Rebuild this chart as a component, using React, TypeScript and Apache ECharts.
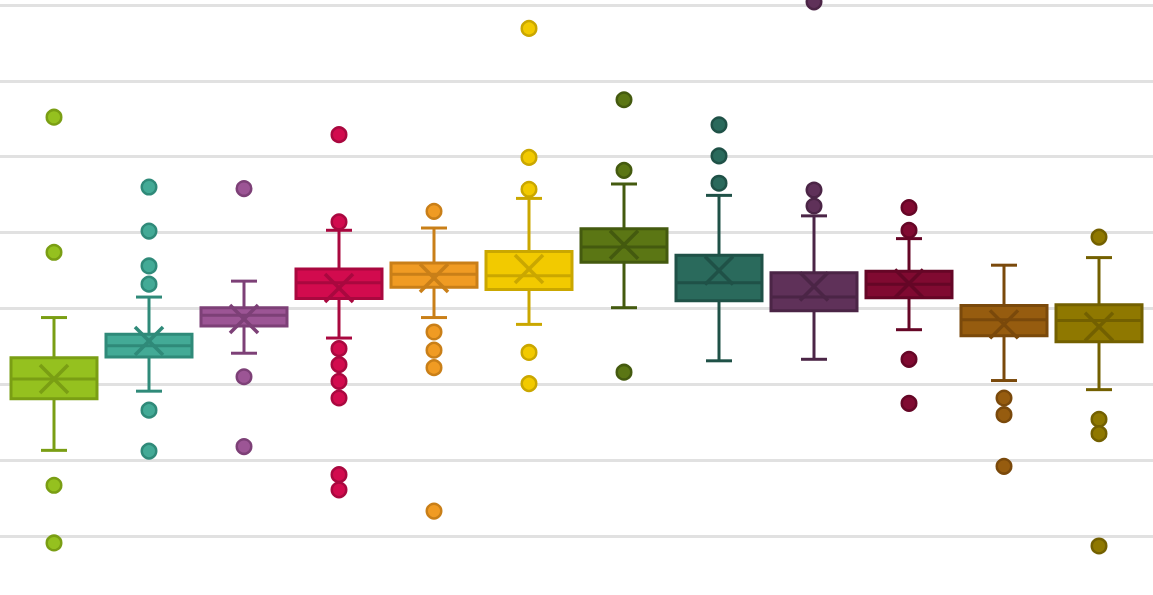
import React, { useEffect, useRef } from "react";
import * as echarts from "echarts";

// 12 groups (no visible labels in the chart)
const categories = ["G1", "G2", "G3", "G4", "G5", "G6", "G7", "G8", "G9", "G10", "G11", "G12"];

const whiskerLow = [11.3, 19.1, 24.1, 26.1, 28.8, 27.9, 30.1, 23.1, 23.3, 27.2, 20.5, 19.3];
const q1 = [18.1, 23.6, 27.7, 31.3, 32.8, 32.5, 36.1, 31.0, 29.7, 31.4, 26.4, 25.6];
const median = [20.7, 25.1, 29.1, 33.4, 34.5, 34.3, 38.1, 33.4, 31.5, 33.2, 28.5, 28.4];
const q3 = [23.5, 26.6, 30.1, 35.2, 36.0, 37.5, 40.5, 37.0, 34.7, 34.9, 30.4, 30.5];
const whiskerHigh = [28.8, 31.5, 33.6, 40.3, 40.6, 44.5, 46.4, 44.9, 42.2, 39.2, 35.7, 36.7];
const means = [20.7, 25.7, 28.6, 32.7, 34.0, 35.2, 38.4, 35.0, 32.9, 33.3, 27.9, 27.6];

const outliers = [
  [55.2, 37.4, 6.7, -0.9],
  [46.0, 40.2, 35.6, 33.2, 16.6, 11.2],
  [45.8, 21.0, 11.8],
  [52.9, 41.4, 24.7, 22.6, 20.4, 18.2, 8.1, 6.1],
  [42.8, 26.9, 24.5, 22.2, 3.3],
  [66.9, 49.9, 45.7, 24.2, 20.1],
  [57.5, 48.2, 21.6],
  [54.2, 50.1, 46.5],
  [70.4, 45.6, 43.5],
  [43.3, 40.3, 23.3, 17.5],
  [18.2, 16.0, 9.2],
  [39.4, 15.4, 13.5, -1.3],
];

const fills = [
  "#95c11f", "#43aa96", "#9c5595", "#d20b4e", "#f09b23", "#f2ca00",
  "#5b7614", "#2a6a5c", "#5f3159", "#800a31", "#965c0f", "#8f7800",
];
const strokes = [
  "#7a9e14", "#2f8a79", "#7d4077", "#a9083f", "#c97f18", "#caa700",
  "#445a0f", "#1f5147", "#4b2546", "#650626", "#7a490b", "#736000",
];

const X_MIN = -0.5684;
const X_MAX = 11.5684;

export default function App() {
  const ref = useRef<HTMLDivElement>(null);

  useEffect(() => {
    if (!ref.current) return;
    const chart = echarts.init(ref.current, null, { renderer: "svg" });

    const boxData = categories.map((_, i) => [
      i, whiskerLow[i], q1[i], median[i], q3[i], whiskerHigh[i], means[i],
    ]);

    const renderItem = (params: any, api: any) => {
      const i = api.value(0);
      const p = (v: number) => api.coord([i, v]);
      const cx = p(api.value(3))[0];
      const yLow = p(api.value(1))[1];
      const yQ1 = p(api.value(2))[1];
      const yMed = p(api.value(3))[1];
      const yQ3 = p(api.value(4))[1];
      const yHigh = p(api.value(5))[1];
      const yMean = p(api.value(6))[1];
      const fill = fills[i];
      const stroke = strokes[i];
      const hw = 43;
      const cap = 13;
      const xs = 14;
      const ls = { stroke, lineWidth: 3 };
      return {
        type: "group",
        children: [
          { type: "line", shape: { x1: cx, y1: yQ3, x2: cx, y2: yHigh }, style: ls },
          { type: "line", shape: { x1: cx, y1: yQ1, x2: cx, y2: yLow }, style: ls },
          { type: "line", shape: { x1: cx - cap, y1: yHigh, x2: cx + cap, y2: yHigh }, style: ls },
          { type: "line", shape: { x1: cx - cap, y1: yLow, x2: cx + cap, y2: yLow }, style: ls },
          {
            type: "rect",
            shape: { x: cx - hw, y: yQ3, width: hw * 2, height: yQ1 - yQ3 },
            style: { fill, stroke, lineWidth: 3 },
          },
          { type: "line", shape: { x1: cx - hw, y1: yMed, x2: cx + hw, y2: yMed }, style: ls },
          {
            type: "line",
            shape: { x1: cx - xs, y1: yMean - xs, x2: cx + xs, y2: yMean + xs },
            style: { stroke, lineWidth: 3.5 },
          },
          {
            type: "line",
            shape: { x1: cx - xs, y1: yMean + xs, x2: cx + xs, y2: yMean - xs },
            style: { stroke, lineWidth: 3.5 },
          },
        ],
      };
    };

    const outlierSeries = outliers.map((vals, i) => ({
      type: "scatter",
      name: categories[i],
      data: vals.map((v) => [i, v]),
      symbol: "circle",
      symbolSize: 14.5,
      itemStyle: { color: fills[i], borderColor: strokes[i], borderWidth: 2.5, opacity: 1 },
      z: 5,
      clip: false,
    }));

    chart.setOption({
      animation: false,
      grid: { left: 0, right: 0, top: 0, bottom: 0 },
      xAxis: {
        type: "value",
        min: X_MIN,
        max: X_MAX,
        show: false,
        splitLine: { show: false },
      },
      yAxis: {
        type: "value",
        min: -10,
        max: 80,
        interval: 10,
        axisLine: { show: false },
        axisTick: { show: false },
        axisLabel: { show: false },
        splitLine: { show: true, lineStyle: { color: "#e1e1e1", width: 3 } },
      },
      series: [
        {
          type: "custom",
          renderItem,
          data: boxData,
          encode: { x: 0, y: [1, 2, 3, 4, 5, 6] },
          z: 3,
          clip: false,
        },
        ...outlierSeries,
      ],
    });

    return () => chart.dispose();
  }, []);

  return (
    <div
      ref={ref}
      style={{ position: "fixed", left: 0, top: -71, width: 1153, height: 683 }}
    />
  );
}
